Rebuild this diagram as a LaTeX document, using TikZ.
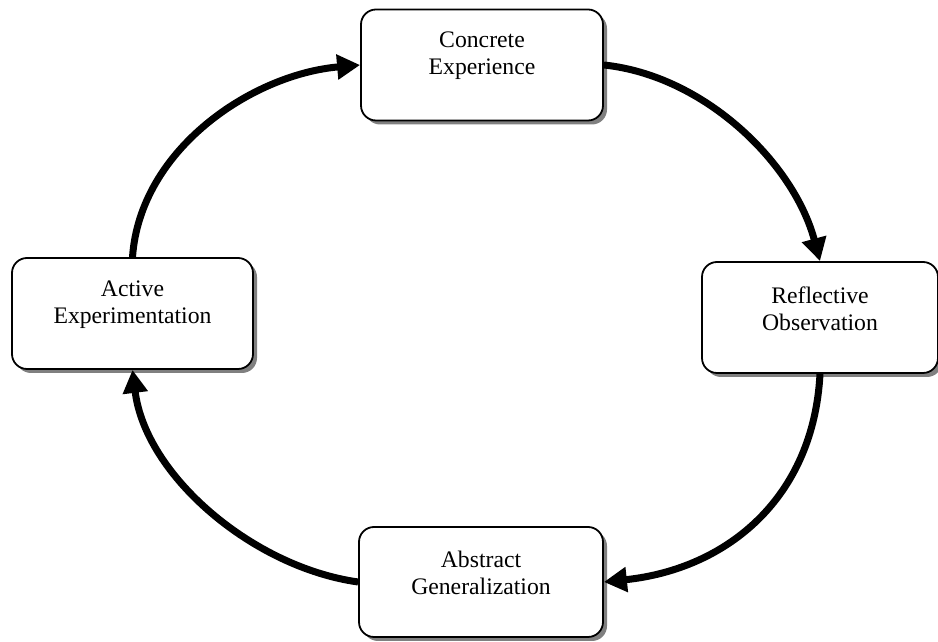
\documentclass[tikz,border=0pt]{standalone}
\usepackage{fontspec}
\setmainfont{Liberation Serif}
\usetikzlibrary{arrows.meta,shadows}
\tikzset{
  box/.style={draw=black, line width=1.8pt, fill=white, rounded corners=15pt,
    minimum height=111pt, inner sep=0pt,
    drop shadow={shadow xshift=4pt, shadow yshift=-4pt, fill=black!50, opacity=1}},
  txt/.style={align=center, inner sep=0pt, font=\fontsize{23.7}{27}\selectfont},
  flow/.style={line width=7pt, -{Triangle[length=23pt,width=24pt]}}
}
\begin{document}
\begin{tikzpicture}[x=1pt,y=1pt]
\useasboundingbox (0,0) rectangle (938,642);
\node[box, minimum width=242pt] (ce) at (482,577) {};
\node[box, minimum width=236pt] (ro) at (820,324.5) {};
\node[box, minimum width=244pt, minimum height=110pt] (ag) at (481,60) {};
\node[box, minimum width=241pt] (ae) at (132.5,328.5) {};
\node[txt] (cet) at ([yshift=9pt]ce.center) {Concrete\\Experience};
\node[txt] (rot) at ([yshift=9pt]ro.center) {Reflective\\Observation};
\node[txt] (agt) at ([yshift=9pt]ag.center) {Abstract\\Generalization};
\node[txt] (aet) at ([yshift=9pt]ae.center) {Active\\Experimentation};
\draw[flow] (ce.east) to[out=-6,in=105,looseness=0.89] (ro.north);
\draw[flow] (ro.south) to[out=-93,in=6,looseness=1.06] (ag.east);
\draw[flow] (ag.west) to[out=172,in=-83,looseness=0.88] (ae.south);
\draw[flow] (ae.north) to[out=86,in=185,looseness=0.93] (ce.west);
\end{tikzpicture}
\end{document}
